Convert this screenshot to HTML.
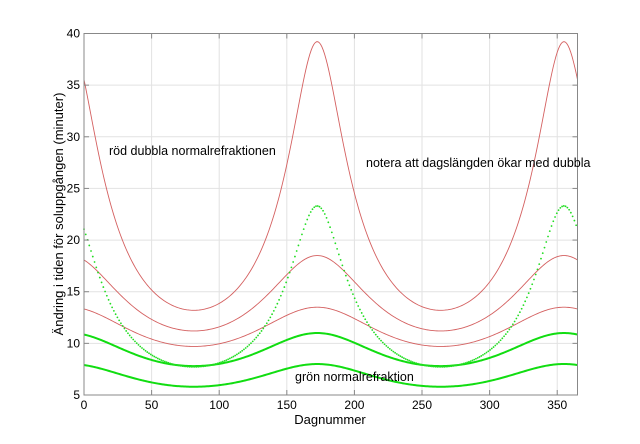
<!DOCTYPE html>
<html><head><meta charset="utf-8"><style>
body{margin:0;background:#fff}
svg{display:block;font-family:"Liberation Sans",sans-serif}
</style></head><body>
<svg id="s" width="640" height="444" xmlns="http://www.w3.org/2000/svg">
<rect width="640" height="444" fill="#fff"/>
<g id="grid" stroke="#e2e2e2" stroke-width="1"></g>
<g id="curves"></g>
<rect x="84" y="33.5" width="493.5" height="361.5" fill="none" stroke="#888" stroke-width="1"/>
<g id="ticks" stroke="#888" stroke-width="1"></g>
<g id="labels" font-size="12" fill="#000"></g>
<text x="330" y="424" font-size="13" text-anchor="middle">Dagnummer</text>
<text transform="translate(63,214) rotate(-90)" font-size="13" text-anchor="middle">Ändring i tiden för soluppgången (minuter)</text>
<text x="109" y="155" font-size="12.5">röd dubbla normalrefraktionen</text>
<text x="366" y="167" font-size="12.5">notera att dagslängden ökar med dubbla</text>
<text x="295" y="381" font-size="12.5">grön normalrefraktion</text>
</svg>
<script>
var NS="http://www.w3.org/2000/svg";
var X0=84,X1=577.5,Y5=395,Y40=33.5;
function px(d){return X0+d*(X1-X0)/365;}
function py(v){return Y5-(v-5)*(Y5-Y40)/35;}
function el(t,a,p){var e=document.createElementNS(NS,t);for(var k in a)e.setAttribute(k,a[k]);p.appendChild(e);return e;}
var g=document.getElementById('grid'),tk=document.getElementById('ticks'),lb=document.getElementById('labels');
for(var d=0;d<=350;d+=50){var x=px(d);
 if(d>0)el('line',{x1:x,y1:Y40,x2:x,y2:Y5},g);
 el('line',{x1:x,y1:Y5,x2:x,y2:Y5-5},tk);el('line',{x1:x,y1:Y40,x2:x,y2:Y40+5},tk);
 var t=el('text',{x:x,y:Y5+14,'text-anchor':'middle'},lb);t.textContent=d;}
for(var v=5;v<=40;v+=5){var y=py(v);
 if(v>5&&v<40)el('line',{x1:X0,y1:y,x2:X1,y2:y},g);
 el('line',{x1:X0,y1:y,x2:X0+5,y2:y},tk);el('line',{x1:X1,y1:y,x2:X1-5,y2:y},tk);
 var t=el('text',{x:X0-4,y:y+4,'text-anchor':'end'},lb);t.textContent=v;}
function s2(d){var dl=-23.44*Math.cos(2*Math.PI*(d+10)/365)*Math.PI/180;var s=Math.sin(dl);return s*s;}
var S=s2(172);
function curve(m,M){var r=M/m,r2=r*r,b=S*r2/(r2-1);return function(d){return m*Math.sqrt(b/(b-s2(d)));};}
var c=document.getElementById('curves');
function line(f,col,w){var p='';for(var d=0;d<=365;d+=1){p+=(d?'L':'M')+px(d).toFixed(2)+' '+py(Math.min(f(d),40.5)).toFixed(2);}
 el('path',{d:p,fill:'none',stroke:col,'stroke-width':w},c);}
line(curve(13.2,39.2),'#d46060',0.9);
line(curve(11.2,18.5),'#d46060',0.9);
line(curve(9.7,13.5),'#d46060',0.9);
line(curve(7.8,11.0),'#11dd11',2);
line(curve(5.8,8.0),'#11dd11',2);
var fd=curve(7.72,23.3);
for(var d=0;d<=365;d+=1.3){el('circle',{cx:px(d),cy:py(fd(d)),r:0.9,fill:'#22dd22'},c);}
</script>
</body></html>
